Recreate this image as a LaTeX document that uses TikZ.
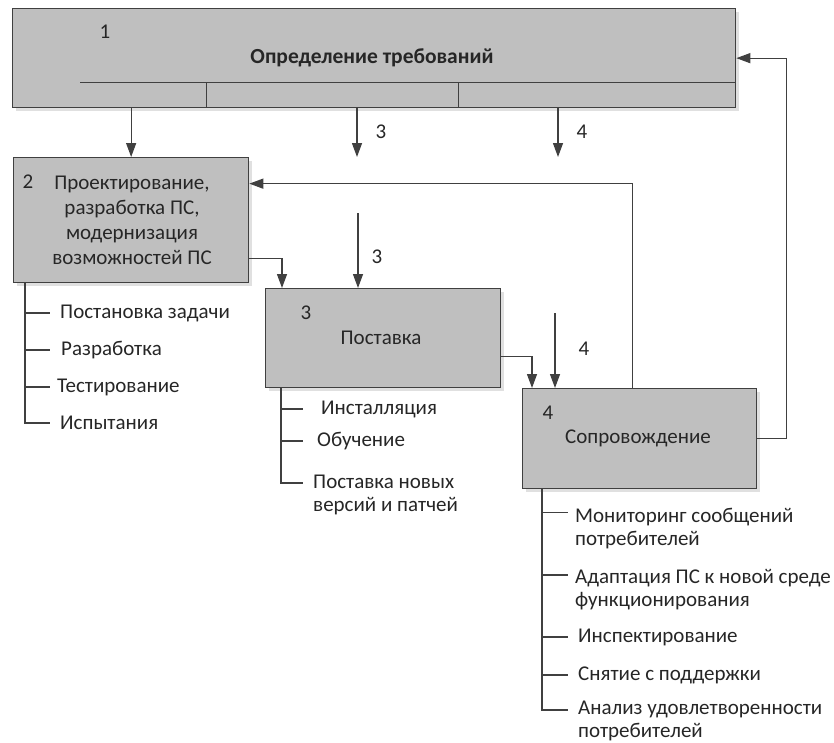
\documentclass[tikz,border=0pt]{standalone}
\usepackage{fontspec}
\setmainfont{Carlito}
\usepackage{tikz}
\usetikzlibrary{calc}
\usetikzlibrary{shadows}
\usetikzlibrary{arrows.meta}
\tikzset{>={Triangle[length=14pt,width=10pt]}}
\colorlet{linecol}{black!75}
\colorlet{boxcol}{black!25}
\tikzset{
  stage/.style={draw=linecol, line width=1.3pt, fill=boxcol, anchor=north west, inner sep=0pt,
    drop shadow={shadow xshift=3pt, shadow yshift=-3pt, fill=black, opacity=0.12}},
  txt/.style={font=\fontsize{21}{23}\selectfont, text=black!85, inner sep=0pt},
  item/.style={txt, anchor=west, align=left},
  link/.style={draw=linecol, line width=1.3pt, ->},
  tree/.style={draw=linecol, line width=1.2pt},
}

\begin{document}
\begin{tikzpicture}[x=1pt, y=-1pt]
                \useasboundingbox (0,0) rectangle (834,742);

                \node[stage, minimum width=723pt, minimum height=99pt] (req) at (12,8) {};
                \node[stage, minimum width=235pt, minimum height=125pt] (des) at (13,157) {};
                \node[stage, minimum width=235pt, minimum height=99pt] (dlv) at (265,288) {};
                \node[stage, minimum width=234pt, minimum height=100pt] (sup) at (522,388) {};

                % lines inside req
                \draw[tree, line width=1pt] (80,82) -- (735,82);
                \draw[tree, line width=1pt] (206,82) -- (206,107);
                \draw[tree, line width=1pt] (458,82) -- (458,107);

                \node[txt] (n1) at (105,32) {1};
                \node[txt, font=\fontsize{21.5}{23}\selectfont\bfseries] (t1) at (372,58) {Определение требований};
                \node[txt] (n2) at (28,182) {2};
                \node[txt, align=center, font=\fontsize{21}{25}\selectfont] (t2) at (132,220) {Проектирование,\\разработка ПС,\\модернизация\\возможностей ПС};
                \node[txt] (n3) at (306,313) {3};
                \node[txt] (t3) at (381,338) {Поставка};
                \node[txt] (n4) at (548,413) {4};
                \node[txt] (t4) at (638,438) {Сопровождение};

                % free ends
                \coordinate (in3a) at (357,157);
                \coordinate (in4a) at (558,157);
                \coordinate (in3b) at (358,213);
                \coordinate (in4b) at (555,313);
                \node[txt] (l3a) at (381,132) {3};
                \node[txt] (l4a) at (582,132) {4};
                \node[txt] (l3b) at (377,257) {3};
                \node[txt] (l4b) at (584,349) {4};

                % req to des
                \draw[link] (req.south -| des.north) -- (des.north);
                % req to 3
                \draw[link] (req.south -| in3a) -- (in3a);
                % req to 4
                \draw[link] (req.south -| in4a) -- (in4a);
                % 3 to dlv
                \draw[link] (in3b) -- (in3b |- dlv.north);
                % des to dlv
                \draw[link] ([yshift=-38.5pt]des.east) -| ([xshift=17pt]dlv.north west);
                % dlv to sup
                \draw[link] ([yshift=-18.5pt]dlv.east) -| ([xshift=10pt]sup.north west);
                % 4 to sup
                \draw[link] (in4b) -- (in4b |- sup.north);
                % sup to des
                \draw[link] ([xshift=-7pt]sup.north) |- ([yshift=36.5pt]des.east);
                % sup to req
                \draw[link] (sup.east) -- ++(29,0) |- (req.east);

                % des items
                \node[item] (d1) at (60,313) {Постановка задачи};
                \node[item] (d2) at (61,350) {Разработка};
                \node[item] (d3) at (57,387) {Тестирование};
                \node[item] (d4) at (60,423) {Испытания};
                \coordinate (s2) at (25,0);
                \coordinate (e2) at (50,0);
                \draw[tree] (des.south -| s2) |- (d4.west -| e2);
                \foreach \n in {d1,d2,d3}
                    \draw[tree] (\n.west -| s2) -- (\n.west -| e2);

                % dlv items
                \node[item] (i1) at (321,409) {Инсталляция};
                \node[item] (i2) at (317,441) {Обучение};
                \node[item] (i3) at (313,495) {Поставка новых\\версий и патчей};
                \coordinate (s3) at (281,0);
                \coordinate (e3) at (303,0);
                \draw[tree] (dlv.south -| s3) |- ($(i3.west -| e3)+(0,-12)$);
                \foreach \n in {i1,i2}
                    \draw[tree] (\n.west -| s3) -- (\n.west -| e3);

                % sup items
                \node[item] (m1) at (575,528.5) {Мониторинг сообщений\\потребителей};
                \node[item] (m2) at (575,590) {Адаптация ПС к новой среде\\функционирования};
                \node[item] (m3) at (578,637) {Инспектирование};
                \node[item] (m4) at (578,675) {Снятие с поддержки};
                \node[item] (m5) at (578,721) {Анализ удовлетворенности\\потребителей};
                \coordinate (s4) at (542,0);
                \coordinate (e4) at (568,0);
                \draw[tree] (sup.south -| s4) |- ($(m5.west -| e4)+(0,-11)$);
                \draw[tree] ($(m1.west -| s4)+(0,-16)$) -- ($(m1.west -| e4)+(0,-16)$);
                \draw[tree] ($(m2.west -| s4)+(0,-15)$) -- ($(m2.west -| e4)+(0,-15)$);
                \foreach \n in {m3,m4}
                    \draw[tree] (\n.west -| s4) -- (\n.west -| e4);
            \end{tikzpicture}
\end{document}
